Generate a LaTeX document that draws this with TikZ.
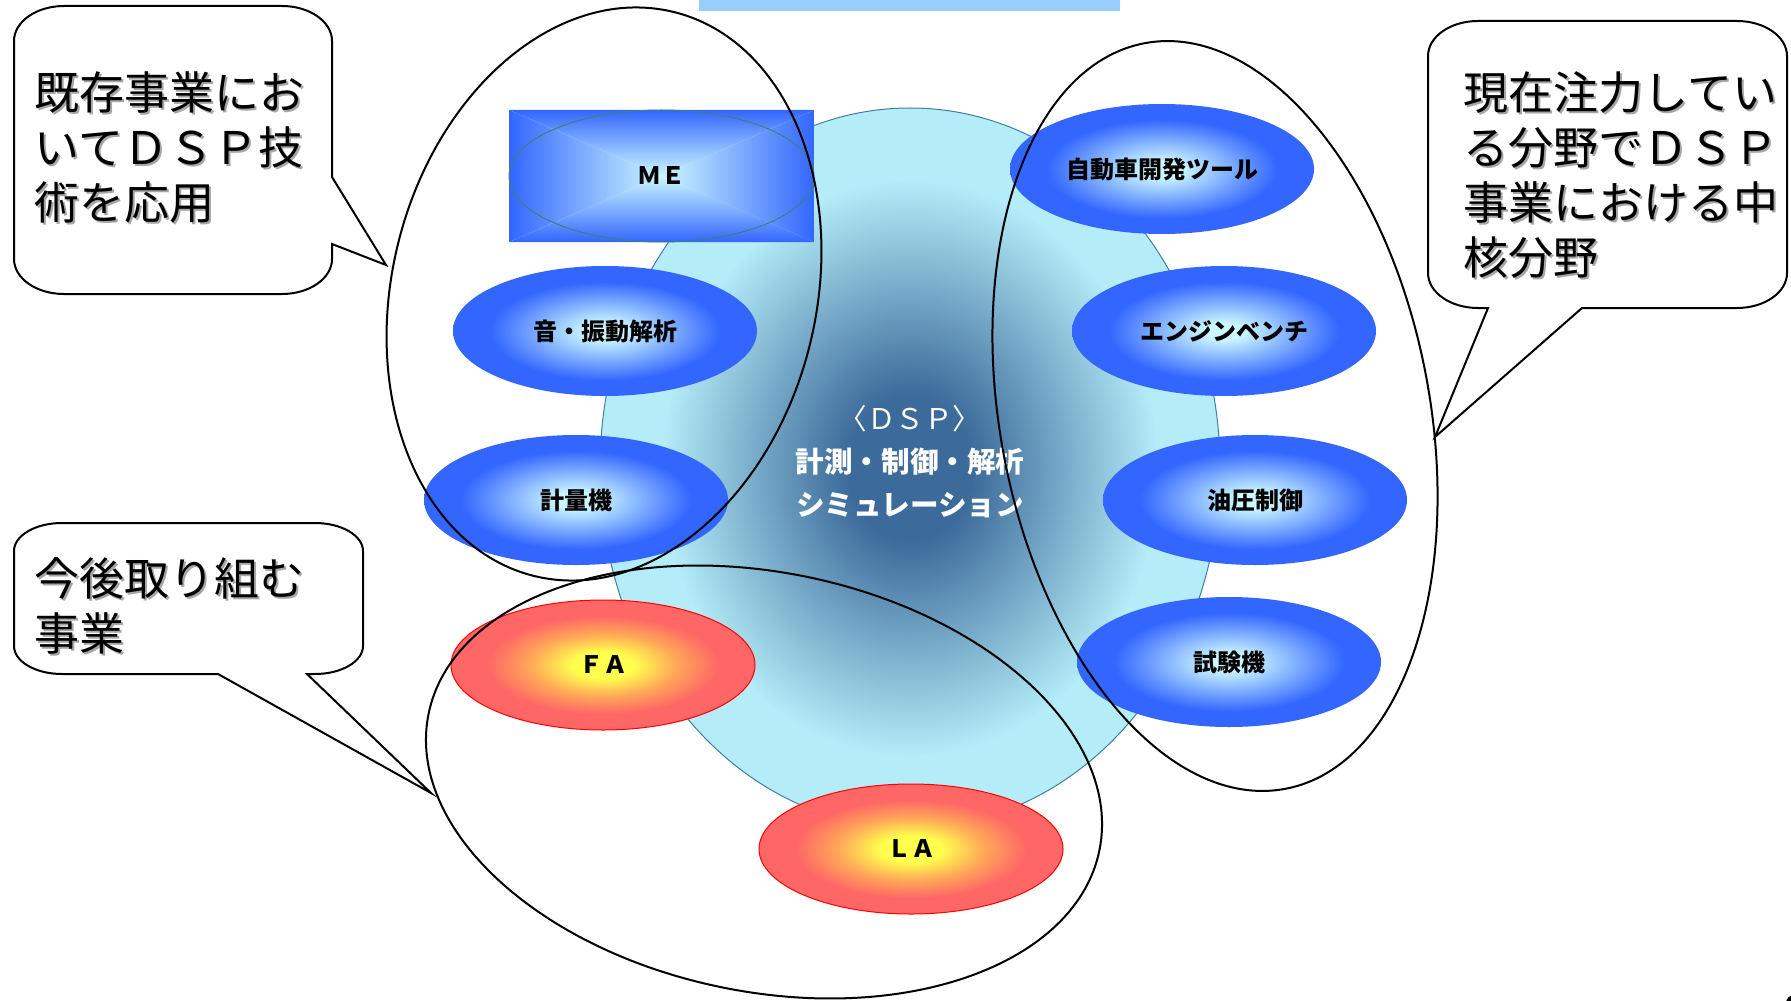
\documentclass[tikz,border=0pt]{standalone}
\usepackage{fontspec}
\setmainfont{Noto Sans CJK JP}
\usetikzlibrary{shapes.geometric}
\definecolor{barblue}{HTML}{99CCFF}
\definecolor{bBlue}{HTML}{3366FF}
\definecolor{bLight}{HTML}{CCF7FF}
\definecolor{rYel}{HTML}{FFFF4D}
\definecolor{rOr}{HTML}{FFA858}
\definecolor{rRed}{HTML}{FF6666}
\definecolor{cDark}{HTML}{3C6A9A}
\definecolor{cLight}{HTML}{B4ECF8}
\definecolor{cEdge}{HTML}{3F7F9F}
\definecolor{meEdge}{HTML}{3F7F7F}
\definecolor{shadowgray}{HTML}{A6A6A6}
\pgfdeclareradialshading{blueball}{\pgfpoint{0bp}{0bp}}{color(0bp)=(bLight); color(3bp)=(bLight); color(19bp)=(bBlue); color(50bp)=(bBlue)}
\pgfdeclareradialshading{redball}{\pgfpoint{0bp}{0bp}}{color(0bp)=(rYel); color(5bp)=(rYel); color(12bp)=(rOr); color(19bp)=(rRed); color(50bp)=(rRed)}
\pgfdeclareradialshading{centerball}{\pgfpoint{0bp}{0bp}}{color(0bp)=(cDark); color(5bp)=(cDark); color(20bp)=(cLight); color(50bp)=(cLight)}
\begin{document}
\begin{tikzpicture}[x=0.5pt,y=0.5pt,
  blueell/.style={ellipse, shade, shading=blueball, minimum width=152pt, minimum height=65pt, inner sep=0pt, font=\bfseries\fontsize{12}{14}\selectfont},
  redell/.style={ellipse, shade, shading=redball, draw=red, line width=0.5pt, minimum width=152pt, minimum height=65pt, inner sep=0pt, font=\bfseries\fontsize{12}{14}\selectfont},
  grp/.style={ellipse, draw=black, line width=1pt, inner sep=0pt},
  callout/.style={draw=black, line width=1pt, fill=white, line join=miter},
  calltext/.style={anchor=north west, inner sep=0pt, align=left, font=\fontsize{22.5}{27.5}\selectfont},
]
\useasboundingbox (0,0) rectangle (1791,-1000);

% top bar
\fill[barblue] (699,0) rectangle (1120,-11);

% central DSP ellipse
\node[ellipse, shade, shading=centerball, draw=cEdge, line width=0.5pt, minimum width=310pt, minimum height=360pt, inner sep=0pt] (dsp) at (910,-468) {};
\node[text=white, align=center, font=\bfseries\fontsize{14.3}{21.5}\selectfont] (dsptext) at (910,-462)
  {{\mdseries 〈ＤＳＰ〉}\\計測・制御・解析\\シミュレーション};

% ME rectangle with pyramid gradient
\shade[top color=bBlue, bottom color=bLight] (509,-110) -- (814,-110) -- (661.5,-176) -- cycle;
\shade[top color=bLight, bottom color=bBlue] (509,-242) -- (814,-242) -- (661.5,-176) -- cycle;
\shade[left color=bBlue, right color=bLight] (509,-110) -- (509,-242) -- (661.5,-176) -- cycle;
\shade[left color=bLight, right color=bBlue] (814,-110) -- (814,-242) -- (661.5,-176) -- cycle;
\node[ellipse, draw=meEdge, line width=0.5pt, minimum width=152.5pt, minimum height=66pt, inner sep=0pt, font=\bfseries\fontsize{12}{14}\selectfont] (me) at (661.5,-176) {ＭＥ};

% blue ellipses
\node[blueell] (oto) at (605,-331) {音・振動解析};
\node[blueell] (keiryo) at (576,-500) {計量機};
\node[blueell] (jidosha) at (1162,-169) {自動車開発ツール};
\node[blueell] (engine) at (1224,-331) {エンジンベンチ};
\node[blueell] (yuatsu) at (1255,-500) {油圧制御};
\node[blueell] (shiken) at (1229,-662) {試験機};

% red ellipses
\node[redell] (fa) at (603,-665) {ＦＡ};
\node[redell] (la) at (911,-849) {ＬＡ};

% group outline ellipses
\node[grp, minimum width=212pt, minimum height=290.5pt, rotate=-14] (grpleft) at (604,-294) {};
\node[grp, minimum width=214.8pt, minimum height=379.4pt, rotate=10.7] (grpright) at (1215,-416) {};
\node[grp, minimum width=342.3pt, minimum height=209.6pt, rotate=-11.5] (grpbottom) at (764,-782) {};

% callout 1
\draw[callout] (64,-6) -- (282,-6) arc[start angle=90,end angle=0,x radius=25pt,y radius=17.5pt]
  -- (332,-177) -- (386,-265) -- (332,-244)
  -- (332,-259) arc[start angle=0,end angle=-90,x radius=25pt,y radius=17.5pt]
  -- (64,-294) arc[start angle=-90,end angle=-180,x radius=25pt,y radius=17.5pt]
  -- (14,-41) arc[start angle=180,end angle=90,x radius=25pt,y radius=17.5pt] -- cycle;
\node[calltext, text=shadowgray] (c1shadow) at (36.5,-73.5) {既存事業にお\\いてＤＳＰ技\\術を応用};
\node[calltext] (c1text) at (34,-71) {既存事業にお\\いてＤＳＰ技\\術を応用};

% callout 2
\draw[callout] (1478,-21) -- (1737,-21) arc[start angle=90,end angle=0,x radius=25pt,y radius=17.5pt]
  -- (1787,-273) arc[start angle=0,end angle=-90,x radius=25pt,y radius=17.5pt]
  -- (1582,-308) -- (1435,-437) -- (1488,-308)
  -- (1478,-308) arc[start angle=-90,end angle=-180,x radius=25pt,y radius=17.5pt]
  -- (1428,-56) arc[start angle=180,end angle=90,x radius=25pt,y radius=17.5pt] -- cycle;
\node[calltext, text=shadowgray] (c2shadow) at (1465.5,-73.5) {現在注力してい\\る分野でＤＳＰ\\事業における中\\核分野};
\node[calltext] (c2text) at (1463,-71) {現在注力してい\\る分野でＤＳＰ\\事業における中\\核分野};

% callout 3
\draw[callout] (62,-523) -- (315,-523) arc[start angle=90,end angle=0,x radius=24pt,y radius=14pt]
  -- (363,-646) arc[start angle=0,end angle=-90,x radius=24pt,y radius=14pt]
  -- (307,-674) -- (431,-793) -- (218,-674)
  -- (62,-674) arc[start angle=-90,end angle=-180,x radius=24pt,y radius=14pt]
  -- (14,-551) arc[start angle=180,end angle=90,x radius=24pt,y radius=14pt] -- cycle;
\node[calltext, text=shadowgray] (c3shadow) at (36.5,-559.5) {今後取り組む\\事業};
\node[calltext] (c3text) at (34,-557) {今後取り組む\\事業};

% corner fragment
\fill[black] (1794,-1003) circle (8);
\end{tikzpicture}
\end{document}
